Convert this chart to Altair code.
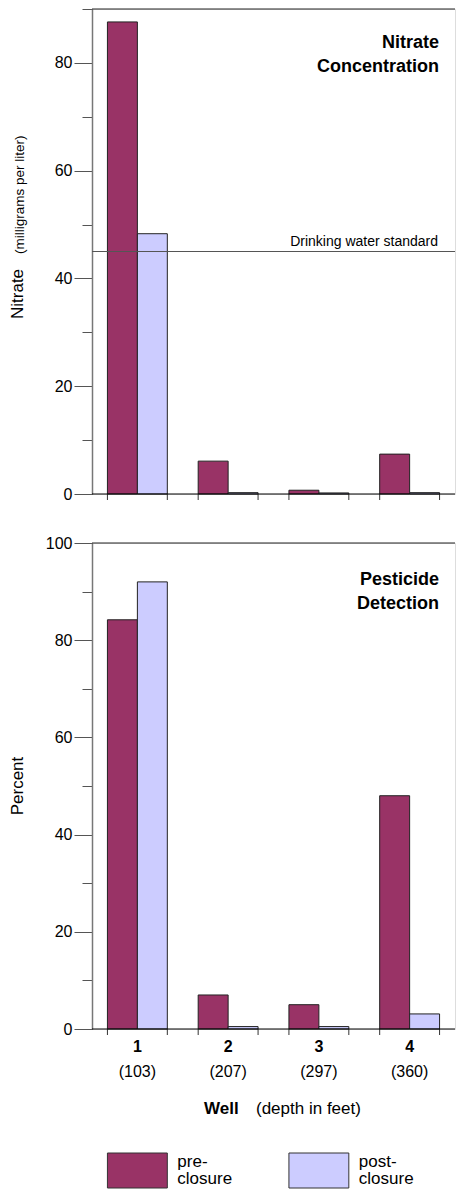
import altair as alt
import pandas as pd

# ---- data ----
WELLS = ["1", "2", "3", "4"]
DEPTHS = ["(103)", "(207)", "(297)", "(360)"]
SERIES = ["pre-closure", "post-closure"]
SERIES_LINE1 = ["pre-", "post-"]
SERIES_LINE2 = ["closure", "closure"]
NITRATE_PRE = [87.6, 6.1, 0.7, 7.4]
NITRATE_POST = [48.3, 0.25, 0.2, 0.25]
PEST_PRE = [84.2, 7.0, 5.0, 48.0]
PEST_POST = [92.0, 0.5, 0.5, 3.1]
STANDARD = [45]
STANDARD_LABEL = "Drinking water standard"
NITRATE_TICKS = [0, 10, 20, 30, 40, 50, 60, 70, 80, 90]
PEST_TICKS = [0, 10, 20, 30, 40, 50, 60, 70, 80, 90, 100]
TITLE_TOP = ["Nitrate", "Concentration"]
TITLE_BOTTOM = ["Pesticide", "Detection"]
COLORS = ["#993366", "#CCCCFF"]

FONT = "Liberation Sans"
W = 363
H1 = 485
H2 = 486
STEP = W / 4.0


def long_form(pre, post):
    rows = []
    for w, a, b in zip(WELLS, pre, post):
        rows.append({"well": w, "series": SERIES[0], "value": a})
        rows.append({"well": w, "series": SERIES[1], "value": b})
    return pd.DataFrame(rows)


wells_df = pd.DataFrame({"well": WELLS, "depth": DEPTHS})
legend_df = pd.DataFrame({"series": SERIES, "l1": SERIES_LINE1, "l2": SERIES_LINE2})
one = pd.DataFrame({"k": [0]})
std_df = pd.DataFrame({"v": STANDARD})

xscale = alt.Scale(domain=WELLS, paddingInner=0.34, paddingOuter=0.17)
cscale = alt.Scale(domain=SERIES, range=COLORS)

MINOR = "datum.value % 20 != 0"


def yaxis(ticks):
    return alt.Axis(
        values=ticks, title=None, grid=False,
        labelExpr="datum.value % 20 == 0 ? datum.label : ''",
        tickSize={"condition": {"test": MINOR, "value": 10}, "value": 18},
        labelFontSize={"condition": {"test": MINOR, "value": 0}, "value": 16},
        labelPadding=2, labelFont=FONT, labelColor="#000",
        tickColor="#555", domainColor="#777", domainWidth=1.5, labelOverlap=False,
    )


def txt(text, x, y, size, bold=False, align="left", angle=0):
    kw = dict(text=text, font=FONT, fontSize=size, align=align,
              baseline="alphabetic", color="#000")
    if bold:
        kw["fontWeight"] = "bold"
    if angle:
        kw["angle"] = angle
    return alt.Chart(one).mark_text(**kw).encode(x=alt.value(x), y=alt.value(y))


def panel(df, ticks, dmax, height, title_lines, title_y, extra):
    ysc = alt.Scale(domain=[0, dmax], nice=False, zero=True)
    bars = alt.Chart(df).mark_bar(stroke="#222", strokeWidth=1).encode(
        x=alt.X("well:N", scale=xscale, axis=None),
        xOffset=alt.XOffset("series:N", scale=alt.Scale(domain=SERIES, paddingInner=0, paddingOuter=0)),
        y=alt.Y("value:Q", scale=ysc, axis=yaxis(ticks)),
        color=alt.Color("series:N", scale=cscale, legend=None),
    )
    layers = [bars]
    for bp in (0, 1):
        layers.append(
            alt.Chart(wells_df).mark_rule(color="#333", strokeWidth=1).encode(
                x=alt.X("well:N", bandPosition=bp, axis=None),
                y=alt.value(height), y2=alt.value(height + 6),
            )
        )
    layers.append(alt.Chart(one).mark_rule(color="#000", strokeWidth=1).encode(y=alt.value(height)))
    layers.append(alt.Chart(one).mark_rule(color="#222", strokeWidth=1).encode(y=alt.value(0)))
    layers.append(txt(title_lines[0], W - 16, title_y, 18, bold=True, align="right"))
    layers.append(txt(title_lines[1], W - 16, title_y + 24, 18, bold=True, align="right"))
    layers += extra(ysc, ticks, height)
    return alt.layer(*layers).properties(width=W, height=height)


def top_extra(ysc, ticks, height):
    return [
        txt("Nitrate", -69, 310, 17, angle=270),
        txt("(milligrams per liter)", -68, 245, 13.5, angle=270),
        alt.Chart(std_df).mark_rule(color="#555", strokeWidth=1).encode(
            y=alt.Y("v:Q", scale=ysc, axis=yaxis(ticks))),
        alt.Chart(std_df).mark_text(text=STANDARD_LABEL, font=FONT, fontSize=14, align="right",
                                    baseline="alphabetic", dy=-6, color="#000").encode(
            x=alt.value(W - 17), y=alt.Y("v:Q", scale=ysc, axis=yaxis(ticks))),
    ]


def bottom_extra(ysc, ticks, height):
    layers = [
        txt("Percent", -69, 243, 17, align="center", angle=270),
        alt.Chart(wells_df).mark_text(font=FONT, fontSize=16, fontWeight="bold",
                                      baseline="alphabetic", color="#000").encode(
            x=alt.X("well:N", axis=None), y=alt.value(height + 23), text="well:N"),
        alt.Chart(wells_df).mark_text(font=FONT, fontSize=16,
                                      baseline="alphabetic", color="#000").encode(
            x=alt.X("well:N", axis=None), y=alt.value(height + 48), text="depth:N"),
        txt("Well", 112, height + 85, 17, bold=True),
        txt("(depth in feet)", 164, height + 85, 17),
    ]
    # custom legend below the x-axis title, boxes aligned with wells 1 and 3
    ly = height + 124
    bw = STEP * 0.66
    for i, bx in enumerate([STEP * 0.17, STEP * 2.17]):
        sel = alt.datum.series == SERIES[i]
        layers.append(
            alt.Chart(legend_df).transform_filter(sel).mark_rect(stroke="#333", strokeWidth=1).encode(
                x=alt.value(bx), x2=alt.value(bx + bw), y=alt.value(ly), y2=alt.value(ly + 35),
                color=alt.Color("series:N", scale=cscale, legend=None))
        )
        tx = bx + bw + 10
        layers.append(
            alt.Chart(legend_df).transform_filter(sel).mark_text(
                font=FONT, fontSize=17, align="left", baseline="alphabetic", color="#000").encode(
                x=alt.value(tx), y=alt.value(ly + 14), text="l1:N")
        )
        layers.append(
            alt.Chart(legend_df).transform_filter(sel).mark_text(
                font=FONT, fontSize=17, align="left", baseline="alphabetic", color="#000").encode(
                x=alt.value(tx), y=alt.value(ly + 31), text="l2:N")
        )
    return layers


top = panel(long_form(NITRATE_PRE, NITRATE_POST), NITRATE_TICKS, 90, H1, TITLE_TOP, 39, top_extra)
bottom = panel(long_form(PEST_PRE, PEST_POST), PEST_TICKS, 100, H2, TITLE_BOTTOM, 42, bottom_extra)

chart = alt.vconcat(top, bottom, spacing=49, bounds="flush").properties(
    padding={"left": 0, "top": 0, "right": 0, "bottom": 0}
).configure_view(fill="#FFF5D4", stroke="#777", strokeWidth=1).configure(font=FONT)

chart.save("out.html", embed_options={"renderer": "svg", "actions": False})
